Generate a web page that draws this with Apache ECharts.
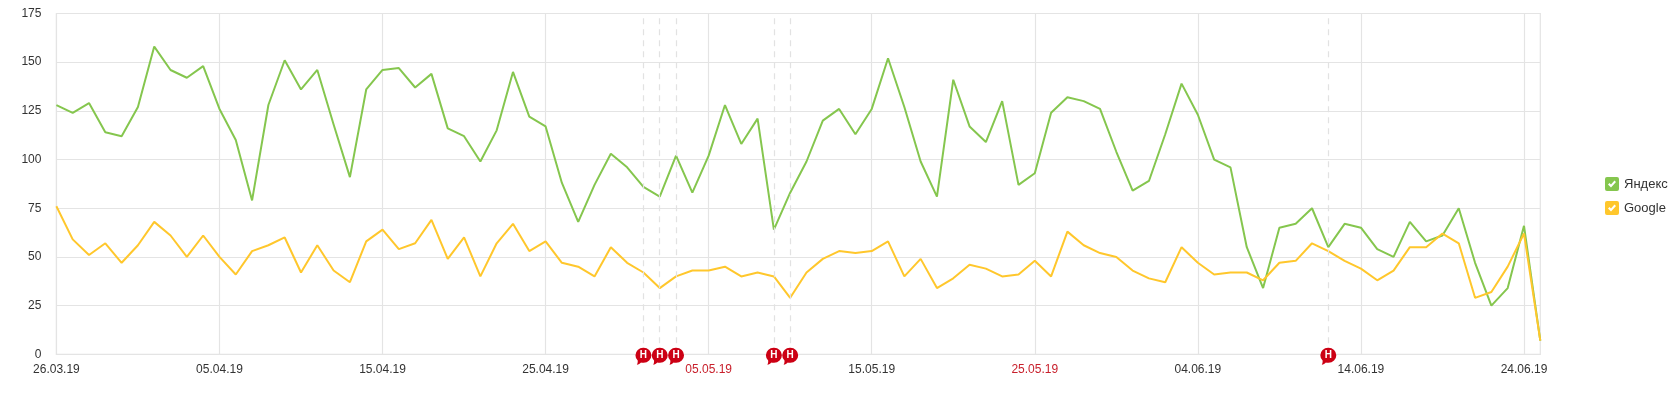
<!DOCTYPE html>
<html><head><meta charset="utf-8">
<style>html,body{margin:0;padding:0;background:#fff}#c{width:1680px;height:405px}</style>
<script src="https://cdn.jsdelivr.net/npm/echarts@6/dist/echarts.min.js"></script>
</head><body><div id="c"></div>
<script>
const categories = [
'26.03.19','27.03.19','28.03.19','29.03.19','30.03.19','31.03.19',
'01.04.19','02.04.19','03.04.19','04.04.19','05.04.19','06.04.19','07.04.19','08.04.19','09.04.19','10.04.19','11.04.19','12.04.19','13.04.19','14.04.19','15.04.19','16.04.19','17.04.19','18.04.19','19.04.19','20.04.19','21.04.19','22.04.19','23.04.19','24.04.19','25.04.19','26.04.19','27.04.19','28.04.19','29.04.19','30.04.19',
'01.05.19','02.05.19','03.05.19','04.05.19','05.05.19','06.05.19','07.05.19','08.05.19','09.05.19','10.05.19','11.05.19','12.05.19','13.05.19','14.05.19','15.05.19','16.05.19','17.05.19','18.05.19','19.05.19','20.05.19','21.05.19','22.05.19','23.05.19','24.05.19','25.05.19','26.05.19','27.05.19','28.05.19','29.05.19','30.05.19','31.05.19',
'01.06.19','02.06.19','03.06.19','04.06.19','05.06.19','06.06.19','07.06.19','08.06.19','09.06.19','10.06.19','11.06.19','12.06.19','13.06.19','14.06.19','15.06.19','16.06.19','17.06.19','18.06.19','19.06.19','20.06.19','21.06.19','22.06.19','23.06.19','24.06.19','25.06.19'];
const yandex = [128,124,129,114,112,127,158,146,142,148,126,110,79,128,151,136,146,118,91,136,146,147,137,144,116,112,99,115,145,122,117,88,68,87,103,96,86,81,102,83,102,128,108,121,64,83,99,120,126,113,126,152,127,99,81,141,117,109,130,87,93,124,132,130,126,104,84,89,113,139,123,100,96,55,34,65,67,75,55,67,65,54,50,68,58,61,75,47,25,34,66,7];
const google = [76,59,51,57,47,56,68,61,50,61,50,41,53,56,60,42,56,43,37,58,64,54,57,69,49,60,40,57,67,53,58,47,45,40,55,47,42,34,40,43,43,45,40,42,40,29,42,49,53,52,53,58,40,49,34,39,46,44,40,41,48,40,63,56,52,50,43,39,37,55,47,41,42,42,38,47,48,57,53,48,44,38,43,55,55,62,57,29,32,45,62,7];
const holidays = ['01.05.19','02.05.19','03.05.19','09.05.19','10.05.19','12.06.19'];
const redLabels = ['05.05.19','25.05.19'];
const seriesNames = ['Яндекс','Google'];

const FONT = '"Liberation Sans", Arial, sans-serif';
const GRIDC = '#e4e4e4';
const checkIcon = 'path://M2 0H12Q14 0 14 2V12Q14 14 12 14H2Q0 14 0 12V2Q0 0 2 0Z M3 7.5L6 10.5L11 5L9.5 3.5L6 7.5L4.5 6Z';
const pinIcon = 'path://M8 0A7.5 7.5 0 0 1 8 15C7 15 6.5 15 5.5 14.6C4.5 15.8 3 16.6 1.5 17C2.2 15.8 2.4 14.6 2.3 12.8A7.5 7.5 0 0 1 8 0Z';

const chart = echarts.init(document.getElementById('c'), null, {renderer:'canvas'});
chart.setOption({
  animation:false,
  backgroundColor:'#fff',
  textStyle:{fontFamily:FONT},
  grid:{left:56.4,right:139.7,top:13.5,bottom:50.7,show:true,borderColor:GRIDC,borderWidth:1.2,backgroundColor:'transparent'},
  legend:{
    orient:'vertical',left:1605,top:177,padding:0,itemWidth:14,itemHeight:14,itemGap:10,icon:checkIcon,
    data:seriesNames,selectedMode:false,
    itemStyle:{borderWidth:0},
    textStyle:{fontFamily:FONT,fontSize:13,color:'#333'}
  },
  xAxis:{
    type:'category',boundaryGap:false,data:categories,
    axisLine:{show:true,lineStyle:{color:GRIDC,width:1.2}},
    axisTick:{show:false},
    axisLabel:{interval:9,margin:9,fontFamily:FONT,fontSize:12,
      color:v=>redLabels.includes(v)?'#c8202c':'#333'},
    splitLine:{show:true,interval:9,lineStyle:{color:GRIDC,width:1.2}}
  },
  yAxis:{
    type:'value',min:0,max:175,interval:25,
    axisLine:{show:false},axisTick:{show:false},
    axisLabel:{margin:15,padding:[2,0,0,0],fontFamily:FONT,fontSize:12,color:'#333'},
    splitLine:{show:true,lineStyle:{color:GRIDC,width:1.2}}
  },
  series:[
    {name:seriesNames[0],type:'line',data:yandex,showSymbol:false,symbol:'none',
     color:'#85c64e',itemStyle:{color:'#85c64e'},lineStyle:{color:'#85c64e',width:2},z:3},
    {name:seriesNames[1],type:'line',data:google,showSymbol:false,symbol:'none',
     color:'#ffc72c',itemStyle:{color:'#ffc72c'},lineStyle:{color:'#ffc72c',width:2},z:4,
     markLine:{silent:true,symbol:'none',label:{show:false},animation:false,
       lineStyle:{color:'#e2e2e2',type:[6,5],width:1.2},
       data:holidays.map(d=>({xAxis:d}))},
     markPoint:{silent:true,symbol:pinIcon,symbolSize:[16,17],symbolOffset:[0,2],animation:false,
       itemStyle:{color:'#cc0014'},
       label:{show:true,position:'inside',offset:[0,-1],formatter:'Н',color:'#fff',fontFamily:FONT,fontWeight:'bold',fontSize:10},
       data:holidays.map(d=>({coord:[d,0]}))}}
  ]
});
</script></body></html>
